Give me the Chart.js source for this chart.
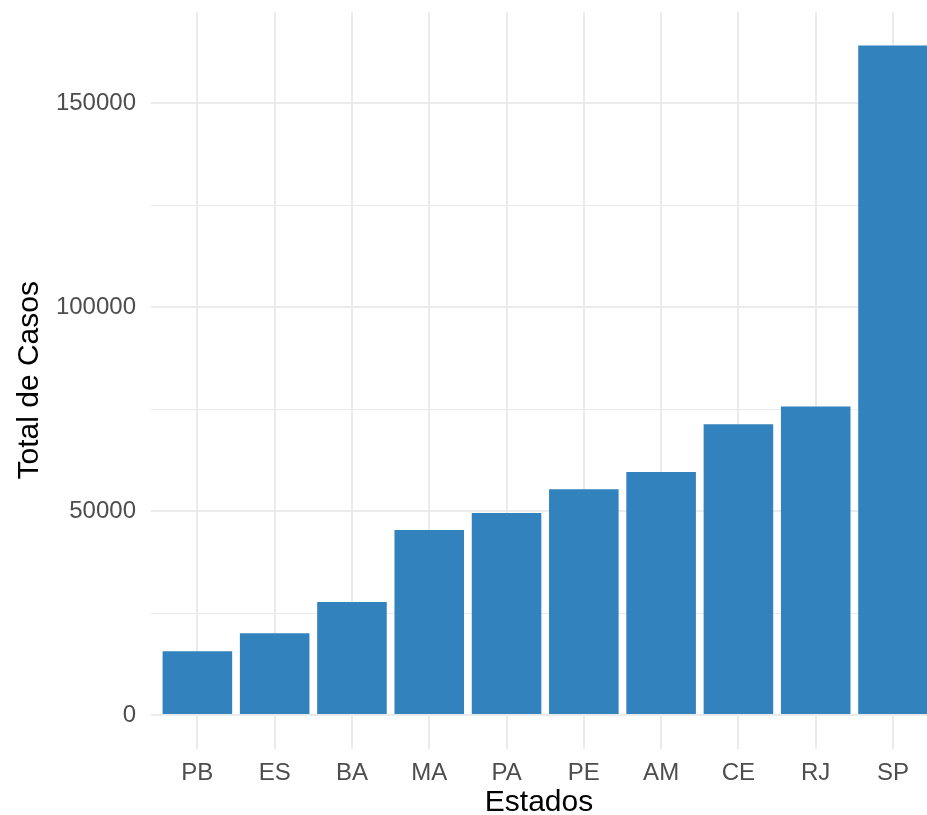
<!DOCTYPE html>
<html>
<head>
<meta charset="utf-8">
<script src="https://cdn.jsdelivr.net/npm/chart.js@4"></script>
<style>
  body { margin: 0; background: #fff; }
  canvas { display: block; }
</style>
</head>
<body>
<canvas id="myChart" width="927" height="815"></canvas>
<script>
// Données du graphique
const estados = ['PB', 'ES', 'BA', 'MA', 'PA', 'PE', 'AM', 'CE', 'RJ', 'SP'];
const totalCasos = [15620, 20030, 27710, 45360, 49530, 55350, 59590, 71290, 75700, 164220];
const yTicks = [0, 25000, 50000, 75000, 100000, 125000, 150000];

const fontFamily = '"Liberation Sans", Arial, Helvetica, sans-serif';
const gridColor = '#ebebeb';

const ctx = document.getElementById('myChart').getContext('2d');

const myChart = new Chart(ctx, {
  type: 'bar',
  data: {
    datasets: [{
      data: estados.map((e, i) => ({ x: i + 1, y: totalCasos[i] })),
      backgroundColor: '#3182bd',
      borderWidth: 0,
      categoryPercentage: 1,
      barPercentage: 0.9
    }]
  },
  options: {
    responsive: false,
    animation: false,
    layout: { padding: { top: 12, right: 0, bottom: 0, left: 0 } },
    plugins: {
      legend: { display: false },
      tooltip: { enabled: false }
    },
    scales: {
      x: {
        type: 'linear',
        offset: false,
        min: 0.4,
        max: 10.44,
        afterBuildTicks: (scale) => {
          scale.ticks = estados.map((e, i) => ({ value: i + 1 }));
        },
        afterFit: (scale) => {
          scale.height = 66.5;
          scale.paddingLeft = 0;
          scale.paddingRight = 0;
        },
        grid: { color: gridColor, lineWidth: 2, drawTicks: false, offset: false },
        border: { display: false },
        ticks: {
          color: '#4d4d4d',
          font: { family: fontFamily, size: 24 },
          padding: 10,
          maxRotation: 0,
          autoSkip: false,
          callback: (v) => estados[v - 1]
        },
        title: {
          display: true,
          text: 'Estados',
          color: '#000',
          font: { family: fontFamily, size: 30 },
          padding: { top: 0, bottom: -6 }
        }
      },
      y: {
        min: -8211,
        max: 172430,
        afterBuildTicks: (scale) => {
          scale.ticks = yTicks.map(v => ({ value: v }));
        },
        afterFit: (scale) => {
          scale.width = 151;
          scale.paddingTop = 0;
          scale.paddingBottom = 0;
        },
        grid: {
          color: gridColor,
          lineWidth: (c) => (c.tick && c.tick.value % 50000 === 0 ? 2 : 1),
          drawTicks: false
        },
        border: { display: false },
        ticks: {
          color: '#4d4d4d',
          font: { family: fontFamily, size: 24 },
          padding: 15,
          callback: (v) => (v % 50000 === 0 ? String(v) : '')
        },
        title: {
          display: true,
          text: 'Total de Casos',
          color: '#000',
          font: { family: fontFamily, size: 30 },
          padding: { top: 12, bottom: 0 }
        }
      }
    }
  }
});
</script>
</body>
</html>
